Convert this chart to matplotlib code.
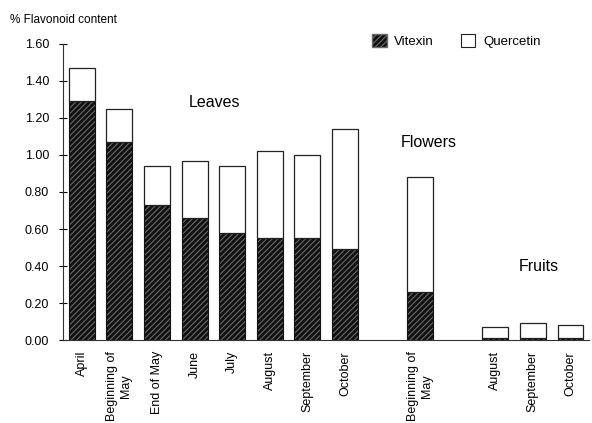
import matplotlib
matplotlib.use("Agg")
import matplotlib.pyplot as plt
from matplotlib.patches import Patch

plt.rcParams['font.family'] = ['Liberation Sans', 'DejaVu Sans']
plt.rcParams['hatch.linewidth'] = 0.8

labels = ["April", "Beginning of\nMay", "End of May", "June", "July", "August",
          "September", "October", "Beginning of\nMay", "August", "September", "October"]
positions = [0, 1, 2, 3, 4, 5, 6, 7, 9, 11, 12, 13]
vitexin = [1.29, 1.07, 0.73, 0.66, 0.58, 0.55, 0.55, 0.49, 0.26, 0.01, 0.01, 0.01]
total = [1.47, 1.25, 0.94, 0.97, 0.94, 1.02, 1.00, 1.14, 0.88, 0.07, 0.09, 0.08]
quercetin = [t - v for t, v in zip(total, vitexin)]
yticks = [0.0, 0.2, 0.4, 0.6, 0.8, 1.0, 1.2, 1.4, 1.6]

fig = plt.figure(figsize=(5.92, 4.23), dpi=100)
ax = fig.add_axes([0.1064, 0.1962, 0.889, 0.6998])

w = 0.69
ax.bar(positions, vitexin, width=w, color='#111111', edgecolor='#6a6a6a',
       hatch='//////', linewidth=0)
ax.bar(positions, vitexin, width=w, fill=False, edgecolor='#111111', linewidth=0.8)
ax.bar(positions, quercetin, bottom=vitexin, width=w, color='white',
       edgecolor='#222222', linewidth=0.9)

ax.set_xlim(-0.5, 13.5)
ax.set_ylim(0, 1.6)
ax.set_yticks(yticks)
ax.set_yticklabels([f"{t:.2f}" for t in yticks], fontsize=9)
ax.set_xticks(positions)
ax.set_xticklabels(labels, rotation=90, fontsize=9, ha='center', va='top',
                   multialignment='center')
ax.tick_params(axis='x', length=0, pad=8)
ax.tick_params(axis='y', direction='inout', length=6, width=0.8, pad=7)
for s in ['top', 'right']:
    ax.spines[s].set_visible(False)
ax.spines['left'].set_linewidth(0.8)
ax.spines['bottom'].set_linewidth(0.8)
ax.spines['left'].set_color('#333333')
ax.spines['bottom'].set_color('#333333')

ax.text(3.54, 1.286, "Leaves", fontsize=11.5, ha='center', va='center')
ax.text(9.23, 1.07, "Flowers", fontsize=11.5, ha='center', va='center')
ax.text(12.15, 0.40, "Fruits", fontsize=11.5, ha='center', va='center')

fig.text(10 / 592, 1 - 23 / 423, "% Flavonoid content", fontsize=8.5, ha='left',
         va='baseline')

handles = [Patch(facecolor='#111111', edgecolor='#6a6a6a', hatch='//////', label='Vitexin'),
           Patch(facecolor='white', edgecolor='#222222', linewidth=0.8, label='Quercetin')]
fig.legend(handles=handles, loc='center left', bbox_to_anchor=(372 / 592, 1 - 41 / 423),
           ncol=2, frameon=False, fontsize=9.5, handlelength=1.1, handleheight=1.1,
           handletextpad=0.6, columnspacing=2.0, borderaxespad=0, borderpad=0)

fig.savefig("out.png", dpi=100)
